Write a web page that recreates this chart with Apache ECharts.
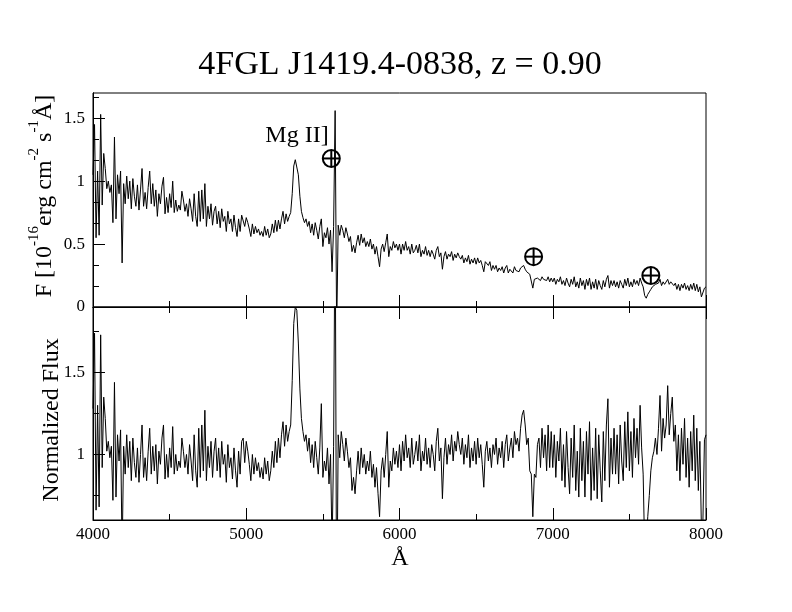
<!DOCTYPE html>
<html>
<head>
<meta charset="utf-8">
<script src="https://cdn.jsdelivr.net/npm/echarts@6/dist/echarts.min.js"></script>
<style>html,body{margin:0;padding:0;background:#fff}#c{width:792px;height:612px}</style>
</head>
<body>
<div id="c"></div>
<script>
// Wavelength grid (Angstrom)
const wave = [
4000,4010,4020,4030,4040,4050,4060,4070,4080,4090,4100,4110,4120,4130,4140,4150,4160,4170,4180,4190,
4200,4210,4220,4230,4240,4250,4260,4270,4280,4290,4300,4310,4320,4330,4340,4350,4360,4370,4380,4390,
4400,4410,4420,4430,4440,4450,4460,4470,4480,4490,4500,4510,4520,4530,4540,4550,4560,4570,4580,4590,
4600,4610,4620,4630,4640,4650,4660,4670,4680,4690,4700,4710,4720,4730,4740,4750,4760,4770,4780,4790,
4800,4810,4820,4830,4840,4850,4860,4870,4880,4890,4900,4910,4920,4930,4940,4950,4960,4970,4980,4990,
5000,5010,5020,5030,5040,5050,5060,5070,5080,5090,5100,5110,5120,5130,5140,5150,5160,5170,5180,5190,
5200,5210,5220,5230,5240,5250,5260,5270,5280,5290,5300,5310,5320,5330,5340,5350,5360,5370,5380,5390,
5400,5410,5420,5430,5440,5450,5460,5470,5480,5490,5500,5510,5520,5530,5540,5550,5560,5570,5580,5590,
5600,5610,5620,5630,5640,5650,5660,5670,5680,5690,5700,5710,5720,5730,5740,5750,5760,5770,5780,5790,
5800,5810,5820,5830,5840,5850,5860,5870,5880,5890,5900,5910,5920,5930,5940,5950,5960,5970,5980,5990,
6000,6010,6020,6030,6040,6050,6060,6070,6080,6090,6100,6110,6120,6130,6140,6150,6160,6170,6180,6190,
6200,6210,6220,6230,6240,6250,6260,6270,6280,6290,6300,6310,6320,6330,6340,6350,6360,6370,6380,6390,
6400,6410,6420,6430,6440,6450,6460,6470,6480,6490,6500,6510,6520,6530,6540,6550,6560,6570,6580,6590,
6600,6610,6620,6630,6640,6650,6660,6670,6680,6690,6700,6710,6720,6730,6740,6750,6760,6770,6780,6790,
6800,6810,6820,6830,6840,6850,6860,6870,6880,6890,6900,6910,6920,6930,6940,6950,6960,6970,6980,6990,
7000,7010,7020,7030,7040,7050,7060,7070,7080,7090,7100,7110,7120,7130,7140,7150,7160,7170,7180,7190,
7200,7210,7220,7230,7240,7250,7260,7270,7280,7290,7300,7310,7320,7330,7340,7350,7360,7370,7380,7390,
7400,7410,7420,7430,7440,7450,7460,7470,7480,7490,7500,7510,7520,7530,7540,7550,7560,7570,7580,7590,
7600,7610,7620,7630,7640,7650,7660,7670,7680,7690,7700,7710,7720,7730,7740,7750,7760,7770,7780,7790,
7800,7810,7820,7830,7840,7850,7860,7870,7880,7890,7900,7910,7920,7930,7940,7950,7960,7970,7980,7990,
8000
];

// Flux, 10^-16 erg cm^-2 s^-1 A^-1 (top panel)
const flux = [
1.05,1.45,0.55,1.08,0.57,1.53,0.81,1.22,1.10,0.94,1.00,0.91,0.97,0.67,1.35,0.70,1.05,0.90,1.08,0.35,
0.98,0.82,1.04,0.86,1.00,0.78,1.02,0.88,0.80,0.97,0.77,0.93,1.10,0.80,0.91,0.78,0.95,1.08,0.82,0.98,
0.80,0.93,0.72,0.90,0.82,0.96,1.03,0.74,0.87,0.75,0.90,0.79,1.00,0.75,0.85,0.76,0.81,0.77,0.92,0.85,
0.76,0.82,0.72,0.86,0.78,0.68,0.90,0.72,0.64,0.92,0.68,0.93,0.70,0.98,0.64,0.80,0.70,0.82,0.65,0.76,
0.80,0.66,0.76,0.63,0.78,0.68,0.72,0.60,0.76,0.66,0.70,0.60,0.73,0.63,0.56,0.70,0.60,0.73,0.74,0.64,
0.71,0.67,0.62,0.56,0.66,0.58,0.64,0.59,0.62,0.57,0.60,0.56,0.64,0.57,0.62,0.55,0.58,0.66,0.59,0.69,
0.60,0.69,0.62,0.70,0.76,0.66,0.74,0.68,0.72,0.75,0.90,1.12,1.17,1.16,1.05,0.88,0.76,0.71,0.67,0.70,
0.64,0.68,0.59,0.66,0.57,0.67,0.61,0.54,0.64,0.70,0.48,0.59,0.55,0.63,0.50,0.61,0.28,0.64,1.56,-0.20,
0.65,0.57,0.65,0.61,0.55,0.63,0.58,0.52,0.56,0.44,0.49,0.43,0.51,0.57,0.49,0.58,0.51,0.55,0.48,0.52,
0.48,0.54,0.46,0.50,0.42,0.48,0.40,0.32,0.46,0.50,0.44,0.51,0.58,0.40,0.48,0.45,0.52,0.47,0.50,0.45,
0.50,0.42,0.50,0.45,0.52,0.45,0.48,0.42,0.50,0.43,0.45,0.49,0.43,0.50,0.40,0.45,0.42,0.48,0.41,0.45,
0.40,0.45,0.42,0.38,0.45,0.48,0.40,0.43,0.30,0.40,0.44,0.38,0.42,0.40,0.44,0.37,0.42,0.39,0.43,0.40,
0.38,0.41,0.35,0.39,0.36,0.41,0.34,0.38,0.35,0.39,0.34,0.39,0.35,0.37,0.33,0.28,0.36,0.37,0.33,0.36,
0.29,0.33,0.30,0.33,0.28,0.31,0.29,0.32,0.27,0.31,0.33,0.27,0.30,0.31,0.27,0.32,0.29,0.30,0.28,0.31,
0.31,0.33,0.30,0.28,0.29,0.26,0.25,0.15,0.22,0.21,0.23,0.24,0.21,0.24,0.22,0.23,0.21,0.24,0.20,0.23,
0.20,0.23,0.18,0.22,0.20,0.24,0.18,0.21,0.17,0.23,0.19,0.16,0.22,0.18,0.24,0.16,0.20,0.15,0.23,0.17,
0.21,0.14,0.22,0.17,0.23,0.14,0.20,0.15,0.22,0.14,0.21,0.17,0.14,0.21,0.16,0.22,0.25,0.15,0.21,0.17,
0.21,0.16,0.20,0.15,0.21,0.18,0.15,0.22,0.17,0.23,0.16,0.20,0.16,0.22,0.18,0.21,0.17,0.23,0.19,0.16,
0.09,0.07,0.10,0.12,0.14,0.16,0.17,0.18,0.17,0.19,0.22,0.17,0.20,0.18,0.19,0.22,0.18,0.20,0.21,0.17,
0.19,0.14,0.18,0.13,0.18,0.15,0.19,0.14,0.17,0.13,0.18,0.14,0.19,0.13,0.18,0.12,0.16,0.08,0.09,0.15,
0.16
];

// Normalized flux (bottom panel)
const normFlux = [
1.28,1.74,0.66,1.30,0.68,1.73,0.92,1.35,1.22,1.02,1.08,0.98,1.05,0.72,1.44,0.74,1.12,0.96,1.15,0.38,
1.05,0.88,1.12,0.92,1.08,0.84,1.10,0.95,0.86,1.04,0.83,1.00,1.18,0.86,0.98,0.84,1.02,1.16,0.88,1.05,
0.90,1.06,0.82,1.02,0.94,1.10,1.18,0.85,1.00,0.86,1.04,0.92,1.17,0.88,1.00,0.90,0.96,0.92,1.10,1.02,
0.92,1.00,0.88,1.06,0.96,0.84,1.12,0.90,0.80,1.16,0.86,1.18,0.90,1.27,0.84,1.05,0.92,1.08,0.86,1.02,
1.10,0.90,1.04,0.86,1.08,0.94,1.00,0.83,1.06,0.92,0.98,0.85,1.04,0.90,0.80,1.02,0.88,1.08,1.10,0.95,
1.08,1.02,0.94,0.84,1.00,0.88,0.98,0.90,0.95,0.86,0.92,0.85,0.98,0.88,0.96,0.84,0.90,1.02,0.92,1.08,
0.95,1.10,0.98,1.12,1.20,1.05,1.18,1.08,1.14,1.18,1.45,1.80,1.90,1.88,1.68,1.40,1.22,1.14,1.08,1.12,
1.02,1.10,0.95,1.06,0.92,1.08,0.98,0.88,1.04,1.31,0.86,0.96,0.90,1.04,0.82,1.00,0.42,1.05,2.60,-0.10,
1.12,0.98,1.14,1.06,0.96,1.10,1.02,0.92,0.98,0.78,0.86,0.76,0.90,1.02,0.88,1.04,0.92,1.00,0.88,0.96,
0.90,1.02,0.86,0.94,0.80,0.92,0.76,0.62,0.90,0.98,0.86,1.00,1.14,0.80,0.96,0.90,1.04,0.94,1.02,0.92,
1.06,0.90,1.08,0.96,1.12,0.98,1.04,0.92,1.10,0.94,1.00,1.08,0.96,1.12,0.90,1.02,0.96,1.10,0.94,1.04,
0.92,1.06,1.00,0.90,1.08,1.16,0.96,1.04,0.73,0.98,1.10,0.94,1.06,1.00,1.12,0.96,1.08,1.02,1.14,1.06,
1.00,1.10,0.94,1.06,0.98,1.12,0.92,1.04,0.96,1.08,0.94,1.10,0.98,1.06,0.94,0.80,1.02,1.08,0.96,1.04,
0.92,1.06,1.00,1.10,0.94,1.04,0.98,1.08,0.92,1.06,1.12,0.96,1.04,1.10,0.98,1.14,1.06,1.10,1.02,1.16,
1.24,1.27,1.18,1.06,1.10,0.90,0.88,0.62,0.88,0.86,1.06,1.10,0.92,1.16,0.98,1.12,0.90,1.18,0.92,1.14,
0.92,1.12,0.86,1.08,0.96,1.16,0.84,1.06,0.80,1.14,0.92,0.76,1.10,0.86,1.18,0.78,1.02,0.74,1.16,0.84,
1.08,0.74,1.14,0.88,1.20,0.72,1.04,0.78,1.16,0.73,1.12,0.90,0.71,1.14,0.84,1.18,1.34,0.80,1.10,0.88,
1.16,0.88,1.12,0.82,1.18,0.96,0.84,1.20,0.92,1.26,0.90,1.14,0.86,1.22,0.98,1.16,0.94,1.30,1.04,0.88,
0.40,0.45,0.62,0.75,0.90,0.98,1.02,1.10,1.00,1.16,1.36,1.02,1.22,1.10,1.18,1.42,1.12,1.25,1.35,1.08,
1.18,0.90,1.12,0.84,1.16,0.94,1.22,0.86,1.10,0.80,1.14,0.90,1.24,0.84,1.16,0.78,1.08,0.55,0.60,1.09,
1.12
];

// Telluric marker positions (top panel)
const telluricWave = [5555, 6875, 7640];
const telluricFlux = [1.18, 0.40, 0.25];

// Tick values
const topMajorTicks = [0, 0.5, 1, 1.5];
const topMinorTicks = [0.1667, 0.3333, 0.6667, 0.8333, 1.1667, 1.3333, 1.6667];
const botMajorTicks = [1, 1.5];
const botMinorTicks = [0.75, 1.25, 1.75];

const FONT = 'Liberation Serif';
const chart = echarts.init(document.getElementById('c'), null, {renderer: 'canvas'});

const topData = wave.map((w, i) => [w, flux[i]]);
const botData = wave.map((w, i) => [w, normFlux[i]]);
const tellData = telluricWave.map((w, i) => [w, telluricFlux[i]]);

const axisLineStyle = {show: true, lineStyle: {color: '#000', width: 1}};
function xAx(gridIndex, position, showLabel) {
  return {
    type: 'value', gridIndex, position, min: 4000, max: 8000, interval: 1000,
    axisLine: axisLineStyle,
    axisTick: {show: true, inside: true, length: 12, lineStyle: {color: '#000', width: 1}},
    minorTick: {show: true, splitNumber: 2, length: 6, lineStyle: {color: '#000', width: 1}},
    splitLine: {show: false}, minorSplitLine: {show: false},
    axisLabel: {show: showLabel, color: '#000', fontFamily: FONT, fontSize: 17, margin: 6,
      formatter: v => String(v)}
  };
}
function yAx(gridIndex, min, max, ticks, labels, len) {
  return {
    type: 'value', gridIndex, position: 'left', min, max,
    axisLine: axisLineStyle,
    axisTick: {show: true, inside: true, length: len, customValues: ticks,
      lineStyle: {color: '#000', width: 1}},
    splitLine: {show: false},
    axisLabel: labels ? {show: true, customValues: ticks, color: '#000', fontFamily: FONT,
      fontSize: 17, margin: 8, formatter: v => String(v)} : {show: false}
  };
}

chart.setOption({
  animation: false,
  backgroundColor: '#fff',
  grid: [
    {left: 93, right: 86, top: 93, height: 214, show: true, borderColor: '#000', borderWidth: 1,
      backgroundColor: 'transparent', outerBoundsMode: 'none'},
    {left: 93, right: 86, top: 307, height: 213, show: true, borderColor: '#000', borderWidth: 1,
      backgroundColor: 'transparent', outerBoundsMode: 'none'}
  ],
  xAxis: [
    xAx(0, 'bottom', false),
    xAx(0, 'top', false),
    xAx(1, 'bottom', true)
  ],
  yAxis: [
    yAx(0, 0, 1.7, topMajorTicks, true, 12),
    yAx(0, 0, 1.7, topMinorTicks, false, 6),
    yAx(1, 0.6, 1.9, botMajorTicks, true, 12),
    yAx(1, 0.6, 1.9, botMinorTicks, false, 6)
  ],
  series: [
    {type: 'line', xAxisIndex: 0, yAxisIndex: 0, data: topData, showSymbol: false, symbol: 'none',
      lineStyle: {color: '#000', width: 1}, clip: true, silent: true},
    {type: 'line', xAxisIndex: 2, yAxisIndex: 2, data: botData, showSymbol: false, symbol: 'none',
      lineStyle: {color: '#000', width: 1}, clip: true, silent: true},
    {type: 'custom', xAxisIndex: 0, yAxisIndex: 0, data: tellData, silent: true,
      renderItem: function (params, api) {
        const p = api.coord([api.value(0), api.value(1)]);
        const r = 8.5;
        const st = {stroke: '#000', lineWidth: 2, fill: 'none'};
        return {type: 'group', children: [
          {type: 'circle', shape: {cx: p[0], cy: p[1], r: r}, style: st},
          {type: 'line', shape: {x1: p[0] - r, y1: p[1], x2: p[0] + r, y2: p[1]}, style: st},
          {type: 'line', shape: {x1: p[0], y1: p[1] - r, x2: p[0], y2: p[1] + r}, style: st}
        ]};
      }}
  ],
  graphic: [
    {type: 'text', x: 400, y: 65, style: {text: '4FGL J1419.4-0838, z = 0.90', fill: '#000',
      fontFamily: FONT, fontSize: 34, align: 'center', verticalAlign: 'middle',
      textAlign: 'center', textVerticalAlign: 'middle'}},
    {type: 'text', x: 297, y: 136, style: {text: 'Mg II]', fill: '#000',
      fontFamily: FONT, fontSize: 24, align: 'center', verticalAlign: 'middle',
      textAlign: 'center', textVerticalAlign: 'middle'}},
    {type: 'text', x: 400, y: 559, style: {text: 'Å', fill: '#000',
      fontFamily: FONT, fontSize: 24, align: 'center', verticalAlign: 'middle',
      textAlign: 'center', textVerticalAlign: 'middle'}},
    {type: 'text', x: 52, y: 420, rotation: Math.PI / 2, style: {text: 'Normalized Flux', fill: '#000',
      fontFamily: FONT, fontSize: 24, align: 'center', verticalAlign: 'middle',
      textAlign: 'center', textVerticalAlign: 'middle'}},
    {type: 'text', x: 42, y: 196, rotation: Math.PI / 2, style: {
      text: '{m|F [10}{s|-16}{m|erg cm}{s|-2}{m| s}{s|-1}{m|Å]}',
      rich: {
        m: {fontFamily: FONT, fontSize: 24, fill: '#000', lineHeight: 30, verticalAlign: 'bottom'},
        s: {fontFamily: FONT, fontSize: 15, fill: '#000', lineHeight: 15, verticalAlign: 'top'}
      },
      fill: '#000', fontFamily: FONT, fontSize: 24,
      align: 'center', verticalAlign: 'middle', textAlign: 'center', textVerticalAlign: 'middle'}}
  ]
});
</script>
</body>
</html>
